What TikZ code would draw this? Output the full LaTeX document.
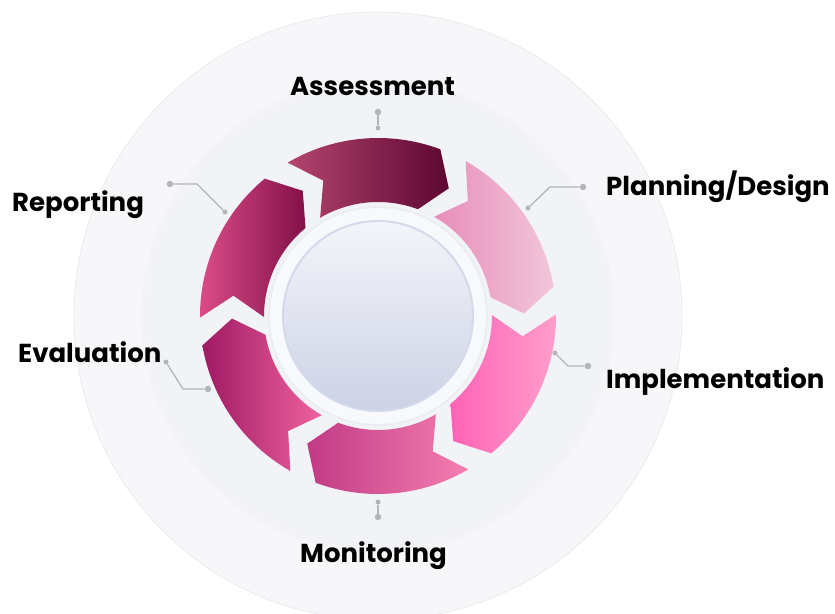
\documentclass[tikz,border=0pt]{standalone}
\usepackage{fontspec}
\setmainfont{Poppins}
\usetikzlibrary{positioning}
\usetikzlibrary{calc}

\definecolor{linkgray}{HTML}{B3B5BA}
\definecolor{outerring}{HTML}{F7F7FA}
\definecolor{outeredge}{HTML}{E6E7EA}
\definecolor{innerdisc}{HTML}{F2F3F7}
\definecolor{ringwhite}{HTML}{F8F9FC}
\definecolor{hubtop}{HTML}{F4F5FA}
\definecolor{hubbottom}{HTML}{CCD2E5}
\definecolor{hubedge}{HTML}{D4DAEB}
% arrow gradients, left / right
\definecolor{assessL}{HTML}{B4456F}
\definecolor{assessR}{HTML}{5C0731}
\definecolor{planL}{HTML}{E88DB9}
\definecolor{planR}{HTML}{F1C6DA}
\definecolor{implL}{HTML}{FF63B6}
\definecolor{implR}{HTML}{FF9ECB}
\definecolor{monitL}{HTML}{C13A85}
\definecolor{monitR}{HTML}{F37FB1}
\definecolor{evaluL}{HTML}{9E1A63}
\definecolor{evaluR}{HTML}{F062A0}
\definecolor{reportL}{HTML}{DB4C88}
\definecolor{reportR}{HTML}{821049}

\tikzstyle{dot} = [fill=linkgray, circle, inner sep=0, minimum size=6.5]
\tikzstyle{tinydot} = [fill=linkgray, circle, inner sep=0, minimum size=5]
\tikzstyle{link} = [draw=linkgray, line width=1.3]
\tikzstyle{phase} = [font=\fontsize{26}{30}\selectfont\bfseries, inner sep=0]

% one curved chevron of the cycle: start angle, left colour, right colour
\newcommand{\cyclearrow}[3]{%
  \path[left color=#2, right color=#3]
    (#1:178) arc[start angle=#1, end angle=#1-51, radius=178]
    -- ({#1-59.5}:146) -- ({#1-51}:114)
    arc[start angle=#1-51, end angle=#1, radius=114]
    -- ({#1-8.5}:146) -- cycle;}

\begin{document}
\begin{tikzpicture}[x=1pt, y=1pt]
	\useasboundingbox (-378,-297) rectangle (457,316);
	\fill[white] (-378,-297) rectangle (457,316);

	% backdrop discs
	\fill[outerring, draw=outeredge, line width=0.6] (0,0) circle[radius=304];
	\fill[black, opacity=0.012] (0,0) circle[radius=237];
	\fill[innerdisc] (0,0) circle[radius=232];

	% the six phases, clockwise
	\cyclearrow{120.5}{assessL}{assessR}
	\cyclearrow{60.5}{planL}{planR}
	\cyclearrow{0.5}{implL}{implR}
	\cyclearrow{-59.5}{monitL}{monitR}
	\cyclearrow{-119.5}{evaluL}{evaluR}
	\cyclearrow{180.5}{reportL}{reportR}

	% hub
	\fill[black, opacity=0.025] (0,0) circle[radius=110];
	\fill[ringwhite] (0,0) circle[radius=108];
	\shade[top color=hubtop, bottom color=hubbottom] (0,0) circle[radius=95];
	\draw[hubedge, line width=2] (0,0) circle[radius=95];

	% labels
	\node (assess) at (-5.5,220) [phase, anchor=base] {Assessment};
	\node (plan) at (228,120) [phase, anchor=base west] {Planning/Design};
	\node (impl) at (228,-72) [phase, anchor=base west] {Implementation};
	\node (monit) at (-4.5,-246) [phase, anchor=base] {Monitoring};
	\node (evalu) at (-360,-46) [phase, anchor=base west] {Evaluation};
	\node (report) at (-366,104) [phase, anchor=base west] {Reporting};

	% connectors
	\node (as1) at (0,204) [dot] {};
	\node (as2) at (0,188) [tinydot] {};
	\draw[link] (as1) -- (as2);

	\node (pl1) at (205,129) [dot] {};
	\coordinate (plk) at (172,129);
	\node (pl2) at (150,108) [tinydot] {};
	\draw[link] (pl1) -- (plk) -- (pl2);

	\node (im1) at (210,-50) [dot] {};
	\coordinate (imk) at (190,-50);
	\node (im2) at (177,-37) [tinydot] {};
	\draw[link] (im1) -- (imk) -- (im2);

	\node (mo1) at (0,-201) [dot] {};
	\node (mo2) at (0,-186) [tinydot] {};
	\draw[link] (mo1) -- (mo2);

	\node (ev1) at (-212,-46) [tinydot] {};
	\coordinate (evk) at (-195,-73);
	\node (ev2) at (-170,-73) [dot] {};
	\draw[link] (ev1) -- (evk) -- (ev2);

	\node (re1) at (-208,132) [dot] {};
	\coordinate (rek) at (-181,132);
	\node (re2) at (-153,104) [tinydot] {};
	\draw[link] (re1) -- (rek) -- (re2);
\end{tikzpicture}
\end{document}
